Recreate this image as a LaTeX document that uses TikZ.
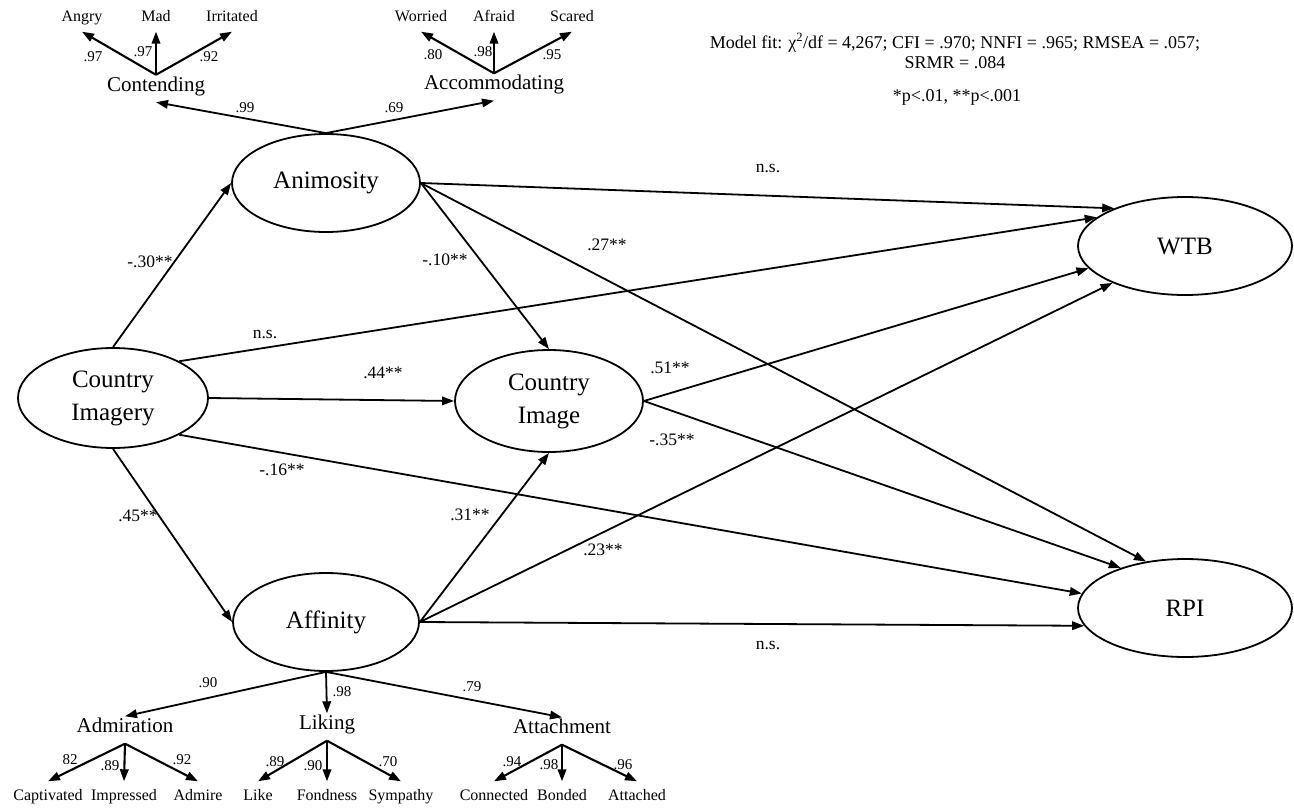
\documentclass[tikz,border=0pt]{standalone}
\usepackage{fontspec}
\setmainfont{Liberation Serif}
\usetikzlibrary{arrows.meta,shapes.geometric}
\begin{document}
\begin{tikzpicture}[x=1pt,y=-1pt,
  lat/.style={ellipse,draw,line width=1.8pt,inner sep=0pt,font=\fontsize{25}{33}\selectfont,align=center},
  ar/.style={-{Triangle[length=12pt,width=8.5pt]},line width=1.8pt},
  iar/.style={-{Triangle[length=12pt,width=8.5pt]},line width=2.1pt},
  plab/.style={font=\fontsize{17.5}{20}\selectfont,inner sep=0pt},
  load/.style={font=\fontsize{15}{18}\selectfont,inner sep=0pt},
  sub/.style={font=\fontsize{21}{25}\selectfont,inner xsep=0pt,inner ysep=9pt,text height=0.7em,text depth=0.2em},
  itemt/.style={font=\fontsize{16}{19}\selectfont,inner xsep=0pt,inner ysep=8pt,text height=0.7em,text depth=0.2em},
  itemb/.style={itemt,inner ysep=12pt},
  note/.style={font=\fontsize{18}{20}\selectfont,align=center,inner sep=0pt}
]
\useasboundingbox[fill=white] (0,0) rectangle (1294,809);

% latent variables
\node[lat,minimum width=188pt,minimum height=98pt] (ani) at (326,183) {Animosity};
\node[lat,minimum width=190pt,minimum height=100pt] (ci) at (113,398) {Country\\Imagery};
\node[lat,minimum width=188pt,minimum height=102pt] (cim) at (549,401) {Country\\Image};
\node[lat,minimum width=186pt,minimum height=98pt] (aff) at (326,622) {Affinity};
\node[lat,minimum width=214pt,minimum height=98pt] (wtb) at (1185,246) {WTB};
\node[lat,minimum width=214pt,minimum height=98pt] (rpi) at (1185,608) {RPI};

% second-level
\node[sub] (cont) at (156,88.5) {Contending};
\node[sub] (acc) at (494,87) {Accommodating};
\node[sub] (adm) at (125,730) {Admiration};
\node[sub] (lik) at (327,727) {Liking};
\node[sub] (att) at (562,731) {Attachment};

% items top
\node[itemt] (angry) at (82,19) {Angry};
\node[itemt] (mad) at (156,19) {Mad};
\node[itemt] (irr) at (232,19) {Irritated};
\node[itemt] (wor) at (421,19) {Worried};
\node[itemt] (afr) at (494,19) {Afraid};
\node[itemt] (sca) at (572,19) {Scared};

% items bottom
\node[itemb] (cap) at (48,798) {Captivated};
\node[itemb] (imp) at (124,798) {Impressed};
\node[itemb] (adi) at (198,798) {Admire};
\node[itemb] (lk) at (258,798) {Like};
\node[itemb] (fon) at (327,798) {Fondness};
\node[itemb] (sym) at (401,798) {Sympathy};
\node[itemb] (con) at (494,798) {Connected};
\node[itemb] (bon) at (562,798) {Bonded};
\node[itemb] (ata) at (637,798) {Attached};

% measurement arrows
\draw[ar] (ani.north) -- (cont.south);
\draw[ar] (ani.north) -- (acc.south);
\draw[iar] (cont.north) -- (angry.south);
\draw[iar] (cont.north) -- (mad.south);
\draw[iar] (cont.north) -- (irr.south);
\draw[iar] (acc.north) -- (wor.south);
\draw[iar] (acc.north) -- (afr.south);
\draw[iar] (acc.north) -- (sca.south);
\draw[ar] (aff.south) -- (adm.north);
\draw[ar] (aff.south) -- (lik.north);
\draw[ar] (aff.south) -- (att.north);
\draw[iar] (adm.south) -- (cap.north);
\draw[iar] (adm.south) -- (imp.north);
\draw[iar] (adm.south) -- (adi.north);
\draw[iar] (lik.south) -- (lk.north);
\draw[iar] (lik.south) -- (fon.north);
\draw[iar] (lik.south) -- (sym.north);
\draw[iar] (att.south) -- (con.north);
\draw[iar] (att.south) -- (bon.north);
\draw[iar] (att.south) -- (ata.north);

% structural arrows
\draw[ar] (ci.north) -- (ani.west);
\draw[ar] (ci.south) -- (aff.west);
\draw[ar] (ci.east) -- (cim.west);
\draw[ar] (ci.29) -- (wtb.162);
\draw[ar] (ci.331) -- (rpi.172);
\draw[ar] (ani.east) -- (cim.north);
\draw[ar] (ani.east) -- (wtb.152);
\draw[ar] (ani.east) -- (rpi.130);
\draw[ar] (aff.east) -- (cim.south);
\draw[ar] (aff.east) -- (wtb.207);
\draw[ar] (aff.east) -- (rpi.190);
\draw[ar] (cim.east) -- (wtb.193);
\draw[ar] (cim.east) -- (rpi.148);

% loadings
\node[load] (l1) at (93,57) {.97};
\node[load] (l2) at (143,52) {.97};
\node[load] (l3) at (209,57) {.92};
\node[load] (l4) at (433,55) {.80};
\node[load] (l5) at (483,52) {.98};
\node[load] (l6) at (552,55) {.95};
\node[load] (l7) at (245,108) {.99};
\node[load] (l8) at (394,108) {.69};
\node[load] (l9) at (208,683) {.90};
\node[load] (l10) at (342,692) {.98};
\node[load] (l11) at (472,687) {.79};
\node[load] (l12) at (70,760) {82};
\node[load] (l13) at (110,766) {.89};
\node[load] (l14) at (182,760) {.92};
\node[load] (l15) at (275,762) {.89};
\node[load] (l16) at (313,766) {.90};
\node[load] (l17) at (388,762) {.70};
\node[load] (l18) at (512,762) {.94};
\node[load] (l19) at (549,765) {.98};
\node[load] (l20) at (623,765) {.96};

% path coefficients
\node[plab] (p1) at (768,168) {n.s.};
\node[plab] (p2) at (150,262) {-.30**};
\node[plab] (p3) at (445,260) {-.10**};
\node[plab] (p4) at (607,245) {.27**};
\node[plab] (p5) at (265,334) {n.s.};
\node[plab] (p6) at (383,373) {.44**};
\node[plab] (p7) at (670,368) {.51**};
\node[plab] (p8) at (672,440) {-.35**};
\node[plab] (p9) at (282,470) {-.16**};
\node[plab] (p10) at (138,516) {.45**};
\node[plab] (p11) at (470,515) {.31**};
\node[plab] (p12) at (603,550) {.23**};
\node[plab] (p13) at (768,645) {n.s.};

% notes
\node[note] (fit) at (955,51) {Model fit: χ\textsuperscript{2}/df = 4,267; CFI = .970; NNFI = .965; RMSEA = .057;\\SRMR = .084};
\node[note] (sig) at (957,97) {*p<.01, **p<.001};
\end{tikzpicture}
\end{document}
